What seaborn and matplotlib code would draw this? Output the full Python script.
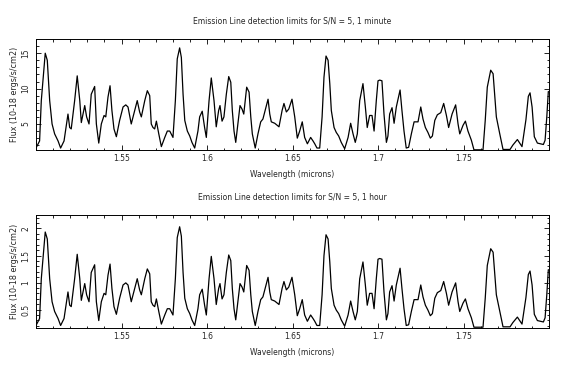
import matplotlib
matplotlib.use("Agg")
import matplotlib.pyplot as plt
from matplotlib.ticker import FixedLocator, MultipleLocator, FuncFormatter
import seaborn as sns
import pandas as pd

# wavelength grid (microns)
wavelength = [
    1.5000, 1.5021, 1.5031, 1.5054, 1.5066, 1.5080, 1.5094, 1.5109, 1.5129, 1.5144,
    1.5164, 1.5177, 1.5187, 1.5197, 1.5206, 1.5226, 1.5241, 1.5256, 1.5265, 1.5285,
    1.5296, 1.5310, 1.5323, 1.5343, 1.5353, 1.5367, 1.5382, 1.5398, 1.5408, 1.5421,
    1.5433, 1.5444, 1.5456, 1.5470, 1.5489, 1.5509, 1.5525, 1.5538, 1.5557, 1.5575,
    1.5592, 1.5606, 1.5616, 1.5636, 1.5651, 1.5665, 1.5674, 1.5684, 1.5694, 1.5704,
    1.5718, 1.5733, 1.5753, 1.5768, 1.5782, 1.5801, 1.5815, 1.5826, 1.5840, 1.5850,
    1.5860, 1.5870, 1.5885, 1.5899, 1.5912, 1.5928, 1.5947, 1.5957, 1.5972, 1.5986,
    1.5996, 1.6012, 1.6025, 1.6041, 1.6054, 1.6068, 1.6076, 1.6088, 1.6099, 1.6113,
    1.6127, 1.6139, 1.6148, 1.6158, 1.6168, 1.6185, 1.6193, 1.6205, 1.6215, 1.6232,
    1.6246, 1.6256, 1.6265, 1.6282, 1.6298, 1.6314, 1.6327, 1.6357, 1.6367, 1.6376,
    1.6396, 1.6421, 1.6439, 1.6450, 1.6464, 1.6478, 1.6497, 1.6513, 1.6528, 1.6542,
    1.6557, 1.6571, 1.6587, 1.6606, 1.6620, 1.6630, 1.6643, 1.6659, 1.6673, 1.6684,
    1.6696, 1.6708, 1.6718, 1.6727, 1.6743, 1.6756, 1.6770, 1.6785, 1.6805, 1.6825,
    1.6840, 1.6854, 1.6867, 1.6879, 1.6893, 1.6912, 1.6926, 1.6937, 1.6951, 1.6965,
    1.6977, 1.6990, 1.7000, 1.7010, 1.7023, 1.7035, 1.7049, 1.7058, 1.7068, 1.7082,
    1.7094, 1.7107, 1.7117, 1.7129, 1.7140, 1.7152, 1.7165, 1.7179, 1.7195, 1.7211,
    1.7234, 1.7250, 1.7263, 1.7277, 1.7292, 1.7306, 1.7318, 1.7332, 1.7347, 1.7367,
    1.7384, 1.7400, 1.7413, 1.7433, 1.7454, 1.7468, 1.7478, 1.7497, 1.7511, 1.7526,
    1.7546, 1.7561, 1.7614, 1.7627, 1.7639, 1.7659, 1.7673, 1.7682, 1.7692, 1.7712,
    1.7731, 1.7772, 1.7788, 1.7815, 1.7842, 1.7865, 1.7879, 1.7889, 1.7901, 1.7914,
    1.7932, 1.7967, 1.7977, 1.7987, 1.7996,
]

# detection limit, 1 minute exposure (10^-18 ergs/s/cm2)
flux_1min = [
    1.6, 2.6, 8.3, 15.0, 14.0, 8.3, 5.0, 3.6, 2.6, 1.6,
    2.6, 4.8, 6.4, 4.5, 4.3, 8.3, 11.8, 8.3, 5.2, 7.6,
    6.0, 5.0, 9.2, 10.3, 5.0, 2.3, 5.0, 6.2, 6.0, 8.8,
    10.4, 6.9, 4.3, 3.2, 5.5, 7.4, 7.7, 7.4, 5.0, 6.7,
    8.3, 6.7, 6.0, 8.3, 9.7, 9.0, 5.0, 4.5, 4.3, 5.4,
    3.6, 1.8, 3.1, 4.0, 4.0, 3.1, 8.3, 14.2, 15.75, 14.4,
    9.2, 5.5, 4.0, 3.3, 2.4, 1.6, 4.0, 6.0, 6.8, 4.5,
    3.1, 8.3, 11.5, 8.3, 4.6, 6.9, 7.6, 5.4, 6.0, 9.2,
    11.7, 10.9, 6.9, 4.0, 2.4, 6.0, 7.6, 7.1, 6.4, 10.2,
    9.5, 6.0, 3.6, 1.6, 3.6, 5.3, 5.7, 8.5, 6.4, 5.3,
    5.1, 4.6, 6.9, 7.9, 6.7, 7.1, 8.5, 6.0, 3.0, 4.0,
    5.3, 3.1, 2.2, 3.1, 2.6, 2.2, 1.6, 1.6, 6.0, 11.6,
    14.6, 14.0, 10.7, 6.9, 4.5, 3.8, 3.3, 2.4, 1.5, 3.1,
    5.1, 3.6, 2.4, 3.6, 8.3, 10.7, 7.4, 4.5, 6.2, 6.2,
    4.0, 8.3, 11.1, 11.2, 11.1, 6.4, 2.4, 3.3, 6.4, 7.3,
    5.1, 7.4, 8.5, 9.8, 6.9, 4.0, 1.6, 1.7, 3.6, 5.3,
    5.3, 7.4, 5.7, 4.5, 3.8, 3.0, 3.3, 5.5, 6.3, 6.6,
    7.9, 6.2, 4.5, 6.4, 7.7, 5.0, 3.6, 4.8, 5.4, 4.0,
    2.7, 1.35, 1.35, 5.5, 10.2, 12.6, 12.1, 9.2, 6.0, 3.6,
    1.4, 1.4, 2.0, 2.8, 1.8, 5.6, 8.9, 9.4, 7.4, 3.2,
    2.3, 2.1, 2.7, 6.0, 9.6,
]

# detection limit, 1 hour exposure
flux_1hr = [
    0.206, 0.335, 1.071, 1.935, 1.806, 1.071, 0.645, 0.465, 0.335, 0.206,
    0.335, 0.619, 0.826, 0.581, 0.555, 1.071, 1.523, 1.071, 0.671, 0.981,
    0.774, 0.645, 1.187, 1.329, 0.645, 0.297, 0.645, 0.800, 0.774, 1.135,
    1.342, 0.890, 0.555, 0.413, 0.710, 0.955, 0.994, 0.955, 0.645, 0.865,
    1.071, 0.865, 0.774, 1.071, 1.252, 1.161, 0.645, 0.581, 0.555, 0.697,
    0.465, 0.232, 0.400, 0.516, 0.516, 0.400, 1.071, 1.832, 2.032, 1.858,
    1.187, 0.710, 0.516, 0.426, 0.310, 0.206, 0.516, 0.774, 0.877, 0.581,
    0.400, 1.071, 1.484, 1.071, 0.594, 0.890, 0.981, 0.697, 0.774, 1.187,
    1.510, 1.406, 0.890, 0.516, 0.310, 0.774, 0.981, 0.916, 0.826, 1.316,
    1.226, 0.774, 0.465, 0.206, 0.465, 0.684, 0.735, 1.097, 0.826, 0.684,
    0.658, 0.594, 0.890, 1.019, 0.865, 0.916, 1.097, 0.774, 0.387, 0.516,
    0.684, 0.400, 0.284, 0.400, 0.335, 0.284, 0.206, 0.206, 0.774, 1.497,
    1.884, 1.806, 1.381, 0.890, 0.581, 0.490, 0.426, 0.310, 0.194, 0.400,
    0.658, 0.465, 0.310, 0.465, 1.071, 1.381, 0.955, 0.581, 0.800, 0.800,
    0.516, 1.071, 1.432, 1.445, 1.432, 0.826, 0.310, 0.426, 0.826, 0.942,
    0.658, 0.955, 1.097, 1.265, 0.890, 0.516, 0.206, 0.219, 0.465, 0.684,
    0.684, 0.955, 0.735, 0.581, 0.490, 0.387, 0.426, 0.710, 0.813, 0.852,
    1.019, 0.800, 0.581, 0.826, 0.994, 0.645, 0.465, 0.619, 0.697, 0.516,
    0.348, 0.174, 0.174, 0.710, 1.316, 1.626, 1.561, 1.187, 0.774, 0.465,
    0.181, 0.181, 0.258, 0.361, 0.232, 0.723, 1.148, 1.213, 0.955, 0.413,
    0.297, 0.271, 0.348, 0.774, 1.239,
]

x_ticks = [1.55, 1.60, 1.65, 1.70, 1.75]
y_ticks_1min = [5, 10, 15]
y_ticks_1hr = [0.5, 1.0, 1.5, 2.0]

sns.set_style("ticks")
plt.rcParams['font.family'] = ['DejaVu Sans']
plt.rcParams['font.size'] = 5.5

fig = plt.figure(figsize=(5.66, 3.65), dpi=100)
ax1 = fig.add_axes([0.0636, 0.589, 0.9064, 0.304])
ax2 = fig.add_axes([0.0636, 0.1022, 0.9064, 0.3088])

panels = [
    (ax1, flux_1min, "1 minute", (1.32, 17.0), y_ticks_1min, 1.0),
    (ax2, flux_1hr, "1 hour", (0.165, 2.25), y_ticks_1hr, 0.1),
]

fmt = FuncFormatter(lambda v, p: "%g" % v)

for ax, flux, label, ylim, yticks, yminor in panels:
    df = pd.DataFrame({"wavelength": wavelength, "flux": flux})
    sns.lineplot(data=df, x="wavelength", y="flux", ax=ax, color="black",
                 linewidth=0.9, sort=False, estimator=None)
    ax.set_xlim(1.5, 1.8)
    ax.set_ylim(*ylim)
    ax.xaxis.set_major_locator(FixedLocator(x_ticks))
    ax.xaxis.set_minor_locator(MultipleLocator(0.01))
    ax.yaxis.set_major_locator(FixedLocator(yticks))
    ax.yaxis.set_minor_locator(MultipleLocator(yminor))
    ax.xaxis.set_major_formatter(fmt)
    ax.yaxis.set_major_formatter(fmt)
    ax.tick_params(which="both", direction="in", top=True, right=True,
                   color="black", width=0.6, labelsize=5.5)
    ax.tick_params(which="major", length=3.6, pad=3)
    ax.tick_params(which="minor", length=1.8)
    ax.tick_params(axis="y", labelrotation=90, pad=4)
    for t in ax.get_yticklabels():
        t.set_va("center")
    for s in ax.spines.values():
        s.set_linewidth(0.7)
        s.set_color("black")
    ax.set_title("Emission Line detection limits for S/N = 5, " + label,
                 fontsize=5.5, pad=11)
    ax.set_xlabel("Wavelength (microns)", fontsize=5.5, labelpad=5)
    ax.set_ylabel("Flux (10-18 ergs/s/cm2)", fontsize=5.8, labelpad=2)

fig.savefig("out.png", dpi=100, facecolor="white")
